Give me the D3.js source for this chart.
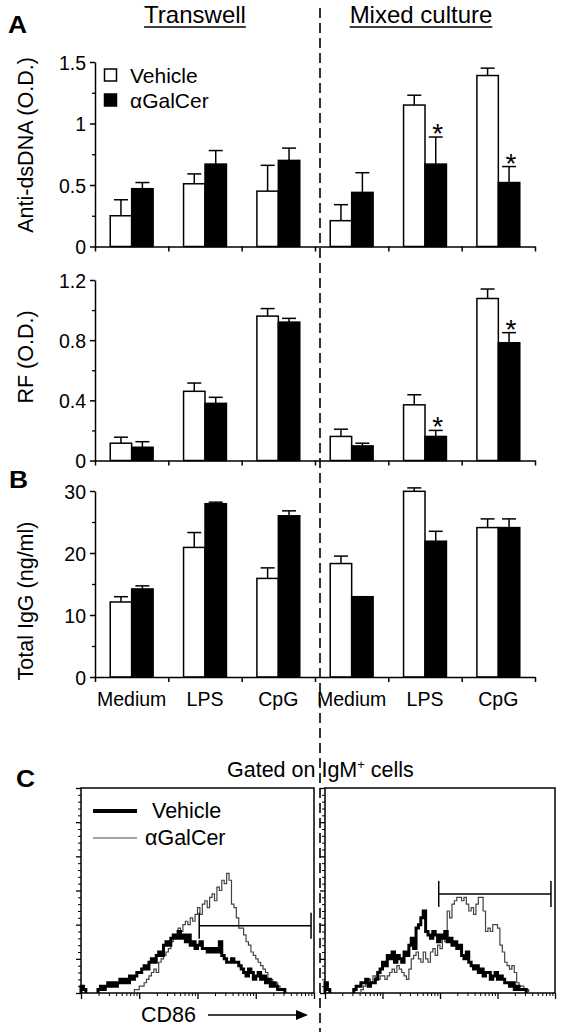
<!DOCTYPE html>
<html><head><meta charset="utf-8">
<script src="https://cdn.jsdelivr.net/npm/d3@7"></script>
<style>
body{margin:0;background:#fff}
svg text{font-family:"Liberation Sans",Arial,sans-serif;fill:#000}
</style></head><body>
<svg id="c" width="565" height="1032"></svg>
<script>
// ---------- data ----------
const categories = ["Medium","LPS","CpG","Medium","LPS","CpG"];
const groupTitles = ["Transwell","Mixed culture"];
const seriesNames = ["Vehicle","αGalCer"];

// Anti-dsDNA (O.D.)
const dsdnaVehicle    = [0.25,0.51,0.45, 0.21,1.15,1.39];
const dsdnaVehicleErr = [0.13,0.08,0.21, 0.13,0.08,0.06];
const dsdnaGal        = [0.47,0.67,0.70, 0.44,0.67,0.52];
const dsdnaGalErr     = [0.05,0.11,0.10, 0.16,0.22,0.13];
const dsdnaStar       = [0,0,0, 0,1,1];
const dsdnaTicks      = [0,0.5,1,1.5];

// RF (O.D.)
const rfVehicle    = [0.115,0.46,0.96, 0.16,0.37,1.077];
const rfVehicleErr = [0.04,0.055,0.05, 0.048,0.067,0.063];
const rfGal        = [0.088,0.38,0.92, 0.097,0.16,0.783];
const rfGalErr     = [0.037,0.04,0.025, 0.018,0.04,0.067];
const rfStar       = [0,0,0, 0,1,1];
const rfTicks      = [0,0.4,0.8,1.2];

// Total IgG (ng/ml)
const iggVehicle    = [12.1,20.9,15.9, 18.3,29.95,24.1];
const iggVehicleErr = [0.85,2.4,1.7, 1.2,0.55,1.4];
const iggGal        = [14.2,27.95,26.0, 12.95,21.9,24.1];
const iggGalErr     = [0.5,0.25,0.8, 0,1.6,1.4];
const iggStar       = [0,0,0, 0,0,0];
const iggTicks      = [0,10,20,30];

// Panel C: CD86 histograms (counts per channel bin, 24 bins per decade over 4 decades)
const histLeftVehicle  = [2,1,0,0,0,0,0,1,2,1,2,3,2,3,2,3,4,3,4,3,5,4,5,6,6,7,8,7,9,10,9,11,12,11,14,15,14,16,17,16,18,16,17,15,17,14,15,13,14,15,13,13,12,13,12,13,12,15,11,10,9,9,10,9,9,8,7,6,5,7,6,4,5,6,4,5,3,4,2,3,2,1,1,1,0,0,0,0,0,0,0,0,0,0,0,0];
const histLeftGal      = [0,0,0,0,0,0,0,0,0,0,0,0,0,0,0,0,0,0,0,0,0,0,1,1,2,2,3,4,5,6,7,6,9,10,11,12,13,15,16,17,19,18,20,21,20,22,21,23,25,23,26,27,25,28,29,27,31,30,33,32,35,33,26,25,22,19,19,17,15,14,12,11,10,9,8,7,6,4,4,3,3,2,1,1,0,0,0,0,0,0,0,0,0,0,0,0];
const histRightVehicle = [3,1,0,0,0,0,0,0,0,0,0,0,1,2,2,3,3,4,2,3,3,4,6,7,9,8,11,10,12,9,11,10,9,12,11,14,16,13,19,20,22,24,18,17,16,18,17,15,17,16,18,15,16,14,15,13,14,11,10,12,9,8,7,8,6,7,5,6,6,4,5,6,4,5,4,3,3,2,3,1,2,1,1,1,0,0,0,0,0,0,0,0,0,0,0,0];
const histRightGal     = [0,0,0,0,0,0,0,0,0,0,0,0,0,0,0,1,2,3,4,3,5,4,4,5,5,4,5,6,7,6,8,7,6,5,4,7,10,11,12,10,9,12,10,9,12,13,11,14,13,16,15,24,22,26,27,28,28,27,28,26,24,25,23,26,28,28,24,18,19,18,20,20,19,14,12,9,8,7,8,6,3,2,2,1,1,0,0,0,0,0,0,0,0,0,0,0];
const gateLeft  = {from:107, to:8900, level:19.7};
const gateRight = {from:95,  to:8500, level:29};

// ---------- drawing ----------
const svg = d3.select("#c");

// panel letters
[["A",8,33],["B",9,488],["C",16,787]].forEach(([t,x,y])=>{
  svg.append("text").attr("transform",`translate(${x},${y}) scale(1.1,1)`)
    .attr("font-size",24).attr("font-weight","bold").text(t);
});

// group headings underlined
const headX = [195, 421];
groupTitles.forEach((t,i)=>{
  const tx = svg.append("text").attr("x",headX[i]).attr("y",23).attr("text-anchor","middle")
    .attr("font-size",24).text(t);
  const bb = tx.node().getBBox();
  svg.append("line").attr("x1",bb.x).attr("x2",bb.x+bb.width).attr("y1",27).attr("y2",27)
    .attr("stroke","#000").attr("stroke-width",1.3);
});

const x0 = d3.scaleBand().domain(d3.range(categories.length)).range([95,535]).padding(0);
const x1 = d3.scaleBand().domain([0,1]).range([0,x0.bandwidth()]).paddingInner(0).paddingOuter(0.71);
const xEdges = d3.scaleLinear().domain([0,categories.length]).range([95,535]);

const panels = [
  {veh:dsdnaVehicle, vehE:dsdnaVehicleErr, gal:dsdnaGal, galE:dsdnaGalErr, star:dsdnaStar,
   ticks:dsdnaTicks, minor:0.25, range:[246.5,62], title:"Anti-dsDNA (O.D.)", titleY:145},
  {veh:rfVehicle, vehE:rfVehicleErr, gal:rfGal, galE:rfGalErr, star:rfStar,
   ticks:rfTicks, minor:0.2, range:[460.5,280], title:"RF (O.D.)", titleY:357},
  {veh:iggVehicle, vehE:iggVehicleErr, gal:iggGal, galE:iggGalErr, star:iggStar,
   ticks:iggTicks, minor:5, range:[677,491], title:"Total IgG (ng/ml)", titleY:601}
];

panels.forEach((p,pi)=>{
  const maxV = p.ticks[p.ticks.length-1];
  const y = d3.scaleLinear().domain([0,maxV]).range(p.range);
  const g = svg.append("g");
  const y0 = y(0);
  categories.forEach((c,i)=>{
    [[p.veh,p.vehE,"#fff",0],[p.gal,p.galE,"#000",1]].forEach(([vals,errs,fill,k])=>{
      const bx = x0(i)+x1(k), bw = x1.bandwidth(), v = vals[i], cx = bx+bw/2;
      if(errs[i]>0){
        g.append("line").attr("x1",cx).attr("x2",cx).attr("y1",y(v)).attr("y2",y(v+errs[i]))
          .attr("stroke","#000").attr("stroke-width",1.5);
        g.append("line").attr("x1",cx-7).attr("x2",cx+7).attr("y1",y(v+errs[i])).attr("y2",y(v+errs[i]))
          .attr("stroke","#000").attr("stroke-width",1.5);
      }
      g.append("rect").attr("x",bx).attr("y",y(v)).attr("width",bw).attr("height",y0-y(v))
        .attr("fill",fill).attr("stroke","#000").attr("stroke-width",1.5);
      if(k===1 && p.star[i]){
        g.append("text").attr("x",cx+2).attr("y",y(v+errs[i])+6).attr("text-anchor","middle")
          .attr("font-size",28).text("*");
      }
    });
  });
  const minorTicks = d3.range(0,maxV+1e-9,p.minor).filter(t=>!p.ticks.some(m=>Math.abs(m-t)<1e-9));
  g.append("g").attr("transform","translate(95,0)")
    .call(d3.axisLeft(y).tickValues(minorTicks).tickSize(3).tickSizeOuter(0).tickFormat(""))
    .call(s=>s.select(".domain").remove()).selectAll("line").attr("stroke-width",1.3);
  const ya = g.append("g").attr("transform","translate(95,0)")
    .call(d3.axisLeft(y).tickValues(p.ticks).tickSize(5).tickSizeOuter(0).tickFormat(d=>String(d)));
  ya.select(".domain").attr("stroke-width",1.5);
  ya.selectAll("line").attr("stroke-width",1.5);
  ya.selectAll("text").attr("font-size",19.5).attr("x",-9).attr("dy","0.36em")
    .style("font-family",'"Liberation Sans",Arial,sans-serif');
  const xa = g.append("g").attr("transform",`translate(0,${y0})`)
    .call(d3.axisBottom(xEdges).ticks(categories.length).tickSize(5).tickSizeOuter(0).tickFormat(""));
  xa.select(".domain").attr("stroke-width",1.5);
  xa.selectAll("line").attr("stroke-width",1.5);
  svg.append("text").attr("transform",`translate(33,${p.titleY}) rotate(-90)`)
    .attr("text-anchor","middle").attr("font-size",21.5).text(p.title);
  if(pi===2){
    categories.forEach((c,i)=>{
      svg.append("text").attr("x",x0(i)+x0.bandwidth()/2).attr("y",706).attr("text-anchor","middle")
        .attr("font-size",19.5).text(c);
    });
  }
});

// Legend in A
[["#fff",seriesNames[0],69,83],["#000",seriesNames[1],94,108]].forEach(([f,t,ry,ty])=>{
  svg.append("rect").attr("x",104.5).attr("y",ry).attr("width",12).attr("height",12)
    .attr("fill",f).attr("stroke","#000").attr("stroke-width",1.5);
  svg.append("text").attr("x",130).attr("y",ty).attr("font-size",21).text(t);
});

// ---------- Panel C ----------
svg.append("text").attr("x",227).attr("y",777).attr("font-size",21.5)
  .html('Gated on IgM<tspan dy="-8" font-size="13">+</tspan><tspan dy="8"> cells</tspan>');

const hy = d3.scaleLinear().domain([0,60]).range([993,788]);
const boxes = [
  {x:[81,314], veh:histLeftVehicle, gal:histLeftGal, gate:gateLeft},
  {x:[325,555], veh:histRightVehicle, gal:histRightGal, gate:gateRight}
];
boxes.forEach(b=>{
  const hx = d3.scaleLog().domain([1,10000]).range(b.x);
  const g = svg.append("g");
  g.append("rect").attr("x",b.x[0]).attr("y",788).attr("width",b.x[1]-b.x[0]).attr("height",205)
    .attr("fill","none").attr("stroke","#000").attr("stroke-width",1.5);
  const yMinor = d3.range(0,61,2).filter(v=>v%10!==0);
  g.append("g").attr("transform",`translate(${b.x[0]},0)`)
    .call(d3.axisLeft(hy).tickValues(yMinor).tickSize(3).tickFormat(""))
    .call(s=>s.select(".domain").remove()).selectAll("line").attr("stroke-width",1);
  g.append("g").attr("transform",`translate(${b.x[0]},0)`)
    .call(d3.axisLeft(hy).tickValues(d3.range(0,61,10)).tickSize(5).tickFormat(""))
    .call(s=>s.select(".domain").remove()).selectAll("line").attr("stroke-width",1.3);
  const minorX = [];
  [1,10,100,1000].forEach(d=>{for(let k=2;k<10;k++)minorX.push(d*k);});
  g.append("g").attr("transform","translate(0,993)")
    .call(d3.axisBottom(hx).tickValues(minorX).tickSize(3).tickFormat(""))
    .call(s=>s.select(".domain").remove()).selectAll("line").attr("stroke-width",1);
  g.append("g").attr("transform","translate(0,993)")
    .call(d3.axisBottom(hx).tickValues([1,10,100,1000,10000]).tickSize(6).tickFormat(""))
    .call(s=>s.select(".domain").remove()).selectAll("line").attr("stroke-width",1.3);
  const edge = i => hx(Math.pow(10, i/24));
  const line = d3.line().x(d=>d[0]).y(d=>hy(d[1])).curve(d3.curveStepAfter);
  function drawHist(arr, color, w){
    // split into runs of non-zero bins so empty channels are not drawn along the axis
    let i = 0;
    while(i < arr.length){
      if(arr[i]===0){ i++; continue; }
      let j = i;
      while(j+1 < arr.length && arr[j+1] > 0) j++;
      const pts = [[edge(i),0]];
      for(let k=i;k<=j;k++) pts.push([edge(k),arr[k]]);
      pts.push([edge(j+1),0]);
      g.append("path").attr("d",line(pts)).attr("fill","none").attr("stroke",color)
        .attr("stroke-width",w).attr("stroke-linejoin","miter");
      i = j+1;
    }
  }
  drawHist(b.gal,"#444",1.2);
  drawHist(b.veh,"#000",3);
  const gy = hy(b.gate.level);
  g.append("line").attr("x1",hx(b.gate.from)).attr("x2",hx(b.gate.to)).attr("y1",gy).attr("y2",gy)
    .attr("stroke","#000").attr("stroke-width",1.5);
  [b.gate.from,b.gate.to].forEach(v=>{
    g.append("line").attr("x1",hx(v)).attr("x2",hx(v)).attr("y1",gy-13).attr("y2",gy+13)
      .attr("stroke","#000").attr("stroke-width",1.5);
  });
});

// C legend
svg.append("line").attr("x1",93).attr("x2",137).attr("y1",811).attr("y2",811).attr("stroke","#000").attr("stroke-width",4);
svg.append("text").attr("x",152).attr("y",818).attr("font-size",21.5).text(seriesNames[0]);
svg.append("line").attr("x1",93).attr("x2",137).attr("y1",838).attr("y2",838).attr("stroke","#888").attr("stroke-width",1.5);
svg.append("text").attr("x",145).attr("y",845).attr("font-size",21.5).text(seriesNames[1]);

// CD86 label + arrow
svg.append("text").attr("x",141).attr("y",1022).attr("font-size",21.5).text("CD86");
svg.append("line").attr("x1",208).attr("x2",298).attr("y1",1015).attr("y2",1015).attr("stroke","#000").attr("stroke-width",1.3);
svg.append("path").attr("d","M296,1010 L308,1015 L296,1020 Z").attr("fill","#000");

// dashed divider
svg.append("line").attr("x1",320).attr("x2",320).attr("y1",8).attr("y2",1032)
  .attr("stroke","#000").attr("stroke-width",1.6).attr("stroke-dasharray","10,5");
</script>
</body></html>
